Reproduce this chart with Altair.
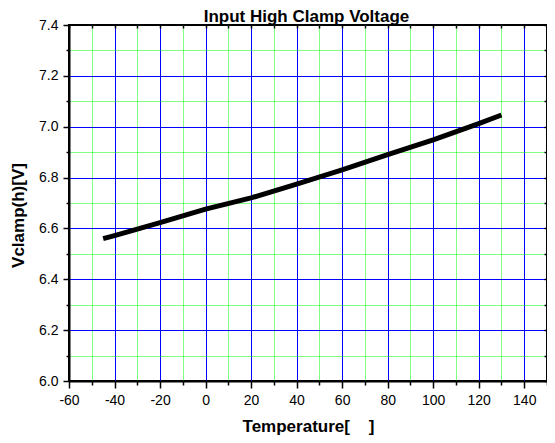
import altair as alt
import pandas as pd

# Data
temperature = [-45, -40, -20, 0, 20, 40, 60, 80, 100, 120, 130]
vclamp = [6.560, 6.572, 6.623, 6.676, 6.720, 6.774, 6.830, 6.890, 6.948, 7.012, 7.046]

x_ticks = [-60, -50, -40, -30, -20, -10, 0, 10, 20, 30, 40, 50, 60, 70,
           80, 90, 100, 110, 120, 130, 140, 150]
y_ticks = [6.0, 6.1, 6.2, 6.3, 6.4, 6.5, 6.6, 6.7, 6.8, 6.9, 7.0, 7.1, 7.2, 7.3, 7.4]

chart_title = "Input High Clamp Voltage"
df = pd.DataFrame({"T": temperature, "V": vclamp})

FONT = "Liberation Sans"
x_major = "datum.value % 20 === 0"
y_major = "abs(datum.value * 5 - round(datum.value * 5)) < 0.001"
x_edge = "datum.value <= -59.9 || datum.value >= 149.9"
y_edge = "datum.value <= 6.001 || datum.value >= 7.399"

xscale = alt.Scale(domain=[-60, 150], nice=False, zero=False)
yscale = alt.Scale(domain=[6.0, 7.4], nice=False, zero=False)

NB = "\u00a0"

x_axis = alt.Axis(
    values=x_ticks, orient="bottom", title="Temperature[" + NB * 4 + "]",
    labelExpr=f"({x_major}) ? '' + datum.value : ''",
    labelFont=FONT, labelFontSize=14, labelColor="black", labelPadding=5,
    labelFlush=False, labelOverlap=False,
    tickSize={"condition": {"test": x_major, "value": 7}, "value": 4},
    tickColor="black", tickWidth=1.5,
    grid=True,
    gridColor={"condition": {"test": x_major, "value": "#0000ff"}, "value": "#00ff00"},
    gridDash={"condition": {"test": x_major, "value": []}, "value": [1, 1]},
    gridOpacity={"condition": {"test": x_edge, "value": 0}, "value": 1},
    gridWidth=1,
    domainColor="black", domainWidth=2,
    titleFont=FONT, titleFontSize=17, titleFontWeight="bold", titleColor="black",
    titleBaseline="alphabetic", titleY=50,
)

y_axis = alt.Axis(
    values=y_ticks, orient="left", title="Vclamp(h)[V]",
    labelExpr=f"({y_major}) ? format(datum.value, '.1f') : ''",
    labelFont=FONT, labelFontSize=14, labelColor="black", labelPadding=5,
    labelFlush=False, labelOverlap=False,
    tickSize={"condition": {"test": y_major, "value": 6}, "value": 3},
    tickColor="black", tickWidth=1.5,
    grid=True,
    gridColor={"condition": {"test": y_major, "value": "#0000ff"}, "value": "#00ff00"},
    gridDash={"condition": {"test": y_major, "value": []}, "value": [1, 1]},
    gridOpacity={"condition": {"test": y_edge, "value": 0}, "value": 1},
    gridWidth=1,
    domainColor="black", domainWidth=2,
    titleFont=FONT, titleFontSize=17, titleFontWeight="bold", titleColor="black",
    titleBaseline="alphabetic", titleAlign="center", titleAngle=270,
    titleX=-46, titleY=190,
)

main = alt.Chart(df).mark_line(color="black", strokeWidth=5, strokeCap="butt").encode(
    x=alt.X("T:Q", scale=xscale, axis=x_axis),
    y=alt.Y("V:Q", scale=yscale, axis=y_axis),
)

frame_ticks = alt.Chart(df).mark_line(opacity=0).encode(
    x=alt.X("T:Q", scale=xscale,
            axis=alt.Axis(values=x_ticks, orient="top", labels=False, domain=False,
                          grid=False, tickSize=3, offset=-3, tickColor="black",
                          tickWidth=1.5, zindex=1,
                          title=chart_title, titleFont=FONT, titleFontSize=17,
                          titleFontWeight="bold", titleColor="black",
                          titleBaseline="alphabetic", titleAlign="center",
                          titleX=237, titleY=-7)),
    y=alt.Y("V:Q", scale=yscale, title=None,
            axis=alt.Axis(values=y_ticks, orient="right", labels=False, domain=False,
                          grid=False, tickSize=3, offset=-3, tickColor="black",
                          tickWidth=1.5, zindex=1)),
)

chart = alt.layer(main, frame_ticks).resolve_axis(
    x="independent", y="independent"
).properties(
    width=478, height=356,
    autosize=alt.AutoSizeParams(type="none"),
    padding={"left": 61, "top": 17, "right": 0, "bottom": 54},
).configure_view(stroke="black", strokeWidth=2)

chart.save("out.html", embed_options={"renderer": "svg", "actions": False})
